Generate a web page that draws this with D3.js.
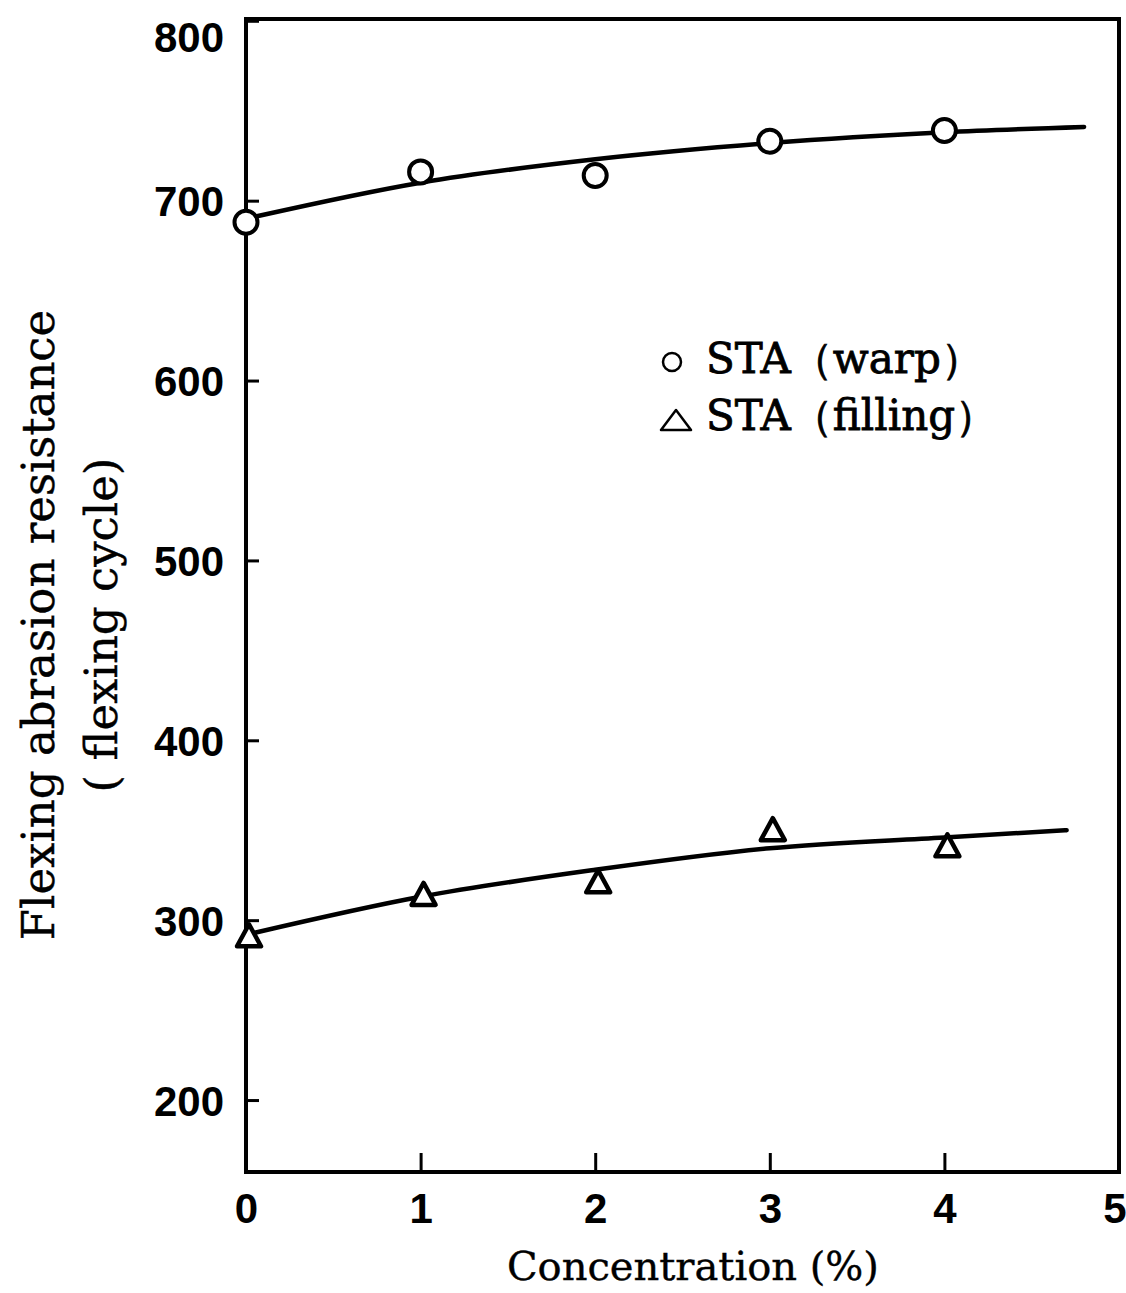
<!DOCTYPE html>
<html>
<head>
<meta charset="utf-8">
<script src="https://cdn.jsdelivr.net/npm/d3@7"></script>
<style>
  html, body { margin: 0; padding: 0; background: #fff; }
  svg { display: block; }
</style>
</head>
<body>
<svg id="chart" width="1126" height="1293"></svg>
<script>
// ---- data ----
const concentration = [0, 1, 2, 3, 4];
const warpValues    = [688, 716, 714, 733, 739];
const fillingValues = [291, 314, 321, 350, 341];
// smooth fitted curves as drawn in the figure
const warpCurveX    = [0, 1, 2, 3, 4, 4.8];
const warpCurveY    = [690, 710, 723, 732, 738, 741];
const fillCurveX    = [0.05, 1, 2, 3, 4, 4.7];
const fillCurveY    = [293, 313, 328, 340, 346, 350];
const xTicks = [0, 1, 2, 3, 4, 5];
const yTicks = [200, 300, 400, 500, 600, 700, 800];
const legendLabels = ["STA（warp）", "STA（filling）"];

const svg = d3.select("#chart");
const x = d3.scaleLinear().domain([0, 5]).range([246, 1119]);
const y = d3.scaleLinear().domain([160, 801]).range([1172, 19]);

const ink = "#000";

// frame (left, top, right, bottom)
svg.append("rect")
  .attr("x", x(0)).attr("y", y(801))
  .attr("width", x(5) - x(0)).attr("height", y(160) - y(801))
  .attr("fill", "none").attr("stroke", ink).attr("stroke-width", 4);

// y axis ticks (inward) and labels
const yAxis = d3.axisRight(y).tickValues(yTicks).tickSize(13).tickFormat(d3.format("d")).tickPadding(0);
const gy = svg.append("g").attr("transform", `translate(${x(0)},0)`).call(yAxis);
gy.select(".domain").remove();
gy.selectAll(".tick line").attr("stroke", ink).attr("stroke-width", 3);
gy.selectAll(".tick text")
  .attr("x", -22).attr("text-anchor", "end")
  .attr("font-family", "'Liberation Sans', Arial, sans-serif")
  .attr("font-weight", "bold").attr("font-size", 42).attr("fill", ink)
  .attr("dy", d => d === 800 ? "0.72em" : "0.36em");

// x axis ticks (inward) and labels
const xAxis = d3.axisTop(x).tickValues(xTicks).tickSize(19).tickFormat(d3.format("d"));
const gx = svg.append("g").attr("transform", `translate(0,${y(160)})`).call(xAxis);
gx.select(".domain").remove();
gx.selectAll(".tick line").attr("stroke", ink).attr("stroke-width", 3)
  .attr("display", d => (d === 0 || d === 5) ? "none" : null);
gx.selectAll(".tick text")
  .attr("y", 51).attr("dy", 0)
  .attr("font-family", "'Liberation Sans', Arial, sans-serif")
  .attr("font-weight", "bold").attr("font-size", 42).attr("fill", ink)
  .attr("text-anchor", d => d === 5 ? "end" : "middle")
  .attr("x", d => d === 5 ? 1126 - x(5) : 0);

// fitted curves
const line = d3.line().x(d => x(d[0])).y(d => y(d[1])).curve(d3.curveMonotoneX);
svg.append("path").datum(d3.zip(warpCurveX, warpCurveY))
  .attr("d", line).attr("fill", "none").attr("stroke", ink)
  .attr("stroke-width", 4.5).attr("stroke-linecap", "round");
svg.append("path").datum(d3.zip(fillCurveX, fillCurveY))
  .attr("d", line).attr("fill", "none").attr("stroke", ink)
  .attr("stroke-width", 4.5).attr("stroke-linecap", "round");

// triangle path centred on (0,0)
function tri(w, h) {
  return `M0,${-h * 0.55}L${w / 2},${h * 0.45}L${-w / 2},${h * 0.45}Z`;
}

// warp markers: open circles
svg.append("g").selectAll("circle")
  .data(d3.zip(concentration, warpValues)).join("circle")
  .attr("cx", d => x(d[0])).attr("cy", d => y(d[1])).attr("r", 11.5)
  .attr("fill", "#fff").attr("stroke", ink).attr("stroke-width", 4);

// filling markers: open triangles
svg.append("g").selectAll("path")
  .data(d3.zip(concentration, fillingValues)).join("path")
  .attr("transform", d => `translate(${x(d[0]) + 3},${y(d[1])})`)
  .attr("d", tri(24, 22))
  .attr("fill", "#fff").attr("stroke", ink).attr("stroke-width", 4.5)
  .attr("stroke-linejoin", "round");

// legend
const serif = "'DejaVu Serif', 'Liberation Serif', serif";
const lg = svg.append("g");
lg.append("circle").attr("cx", 672).attr("cy", 362).attr("r", 9)
  .attr("fill", "none").attr("stroke", ink).attr("stroke-width", 2.5);
lg.append("path").attr("transform", "translate(676,421)").attr("d", tri(30, 20))
  .attr("fill", "none").attr("stroke", ink).attr("stroke-width", 2.5).attr("stroke-linejoin", "round");
lg.selectAll("text").data(legendLabels).join("text")
  .attr("x", 706).attr("y", (d, i) => 373 + i * 57)
  .attr("font-family", serif).attr("font-size", 42).attr("fill", ink)
  .attr("stroke", ink).attr("stroke-width", 0.8)
  .text(d => d);

// axis titles
svg.append("text")
  .attr("x", 693).attr("y", 1280).attr("text-anchor", "middle")
  .attr("font-family", serif).attr("font-size", 40).attr("fill", ink)
  .attr("stroke", ink).attr("stroke-width", 0.4)
  .text("Concentration (%)");

const yt = svg.append("g").attr("transform", "translate(0,625) rotate(-90)");
yt.append("text").attr("x", 0).attr("y", 54).attr("text-anchor", "middle")
  .attr("font-family", serif).attr("font-size", 45).attr("fill", ink)
  .attr("stroke", ink).attr("stroke-width", 0.4)
  .text("Flexing abrasion resistance");
yt.append("text").attr("x", 0).attr("y", 117).attr("text-anchor", "middle")
  .attr("font-family", serif).attr("font-size", 45).attr("fill", ink)
  .attr("stroke", ink).attr("stroke-width", 0.4)
  .text("( flexing cycle)");
</script>
</body>
</html>
